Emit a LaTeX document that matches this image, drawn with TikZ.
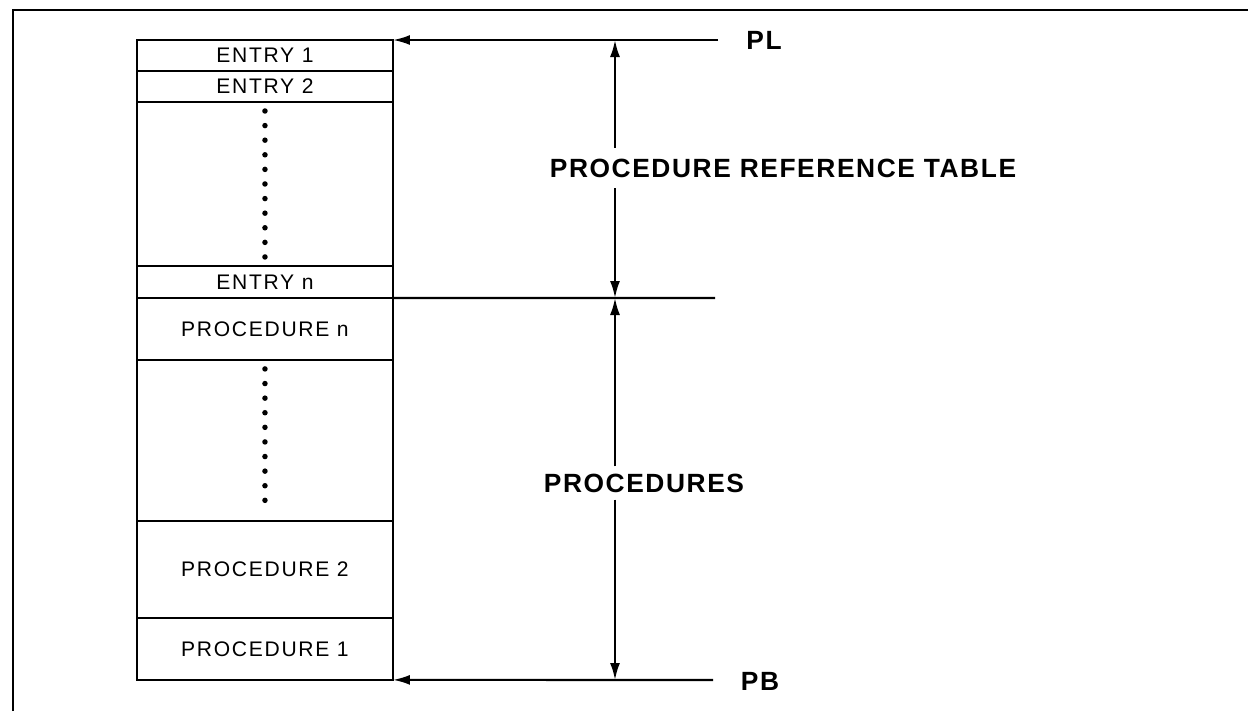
\documentclass[tikz,border=0pt]{standalone}
\usepackage{fontspec}
\setmainfont{Liberation Sans}
\usetikzlibrary{arrows.meta}
\usetikzlibrary{positioning}

\tikzset{
  cell/.style={draw, line width=1.3pt, minimum width=5.12cm, inner sep=0pt, outer sep=0pt,
    font=\fontsize{12}{14}\selectfont\addfontfeatures{LetterSpace=8}},
  lbl/.style={font=\bfseries\fontsize{15}{18}\selectfont\addfontfeatures{LetterSpace=6}, inner sep=6pt},
  tip/.style={-{Latex[length=0.34cm,width=0.2cm]}, line width=1.2pt},
  dotcol/.style={line width=0.11cm, line cap=round, dash pattern=on 0pt off 0.292cm},
}

\begin{document}
\begin{tikzpicture}[x=0.02cm,y=-0.02cm]
			\useasboundingbox (0,0) rectangle (1248,711);
			\draw[line width=1.7pt] (13,711) -- (13,10) -- (1248,10);
			% table and procedures
			\node[cell, minimum height=0.62cm, anchor=north west] (e1) at (137,40) {ENTRY 1};
			\node[cell, minimum height=0.62cm, below=0pt of e1] (e2) {ENTRY 2};
			\node[cell, minimum height=3.28cm, below=0pt of e2] (d1) {};
			\node[cell, minimum height=0.64cm, below=0pt of d1] (en) {ENTRY n};
			\node[cell, minimum height=1.24cm, below=0pt of en] (pn) {PROCEDURE n};
			\node[cell, minimum height=3.22cm, below=0pt of pn] (d2) {};
			\node[cell, minimum height=1.94cm, below=0pt of d2] (p2) {PROCEDURE 2};
			\node[cell, minimum height=1.24cm, below=0pt of p2] (p1) {PROCEDURE 1};
			\draw[dotcol] ([yshift=-9*0.02cm]d1.north) -- ([yshift=8*0.02cm]d1.south);
			\draw[dotcol] ([yshift=-9*0.02cm]d2.north) -- ([yshift=7*0.02cm]d2.south);
			% pointers
			\node[lbl] (pl) at (764,40) {PL};
			\node[lbl] (pb) at (760,681) {PB};
			\coordinate (plend) at (718,40);
			\coordinate (pbend) at (713,680);
			\coordinate (sepend) at (715,298);
			\draw[tip] (plend) -- (e1.north east);
			\draw[tip] (pbend) -- (p1.south east);
			\draw[line width=1.2pt] (en.south east) -- (sepend);
			% extents
			\coordinate (prtop) at (615,40);
			\coordinate (prmid) at (615,298);
			\coordinate (prbot) at (615,680);
			\node[lbl] (prt) at (783,168) {PROCEDURE REFERENCE TABLE};
			\node[lbl, inner ysep=4pt] (procs) at (644,483) {PROCEDURES};
			\draw[tip] (prt.north -| prtop) -- (prtop);
			\draw[tip] (prt.south -| prmid) -- (prmid);
			\draw[tip] (procs.north -| prmid) -- (prmid);
			\draw[tip] (procs.south -| prbot) -- (prbot);
		\end{tikzpicture}
\end{document}
